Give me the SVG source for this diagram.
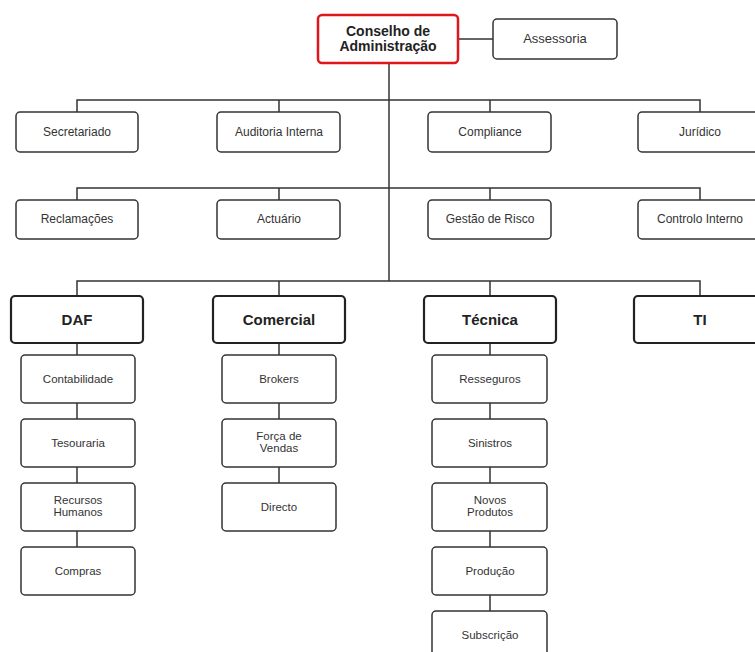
<svg xmlns="http://www.w3.org/2000/svg" width="755" height="652" viewBox="0 0 755 652">
<style>
.bg{fill:#ffffff}
.box{fill:#ffffff;stroke:#333333;stroke-width:1.5}
.dept{fill:#ffffff;stroke:#222222;stroke-width:2.2}
.top{fill:#ffffff;stroke:#e0161b;stroke-width:2.5}
.ln{fill:none;stroke:#333333;stroke-width:1.5}
text{font-family:"Liberation Sans",Arial,sans-serif;text-anchor:middle;fill:#333333}
.t1{font-size:12px}
.t0{font-size:14px;font-weight:bold;fill:#222222}
.td{font-size:15px;font-weight:bold;fill:#222222}
.ts{font-size:11.5px}
</style>
<rect class="bg" x="0" y="0" width="755" height="652"/>
<g id="connectors">
<path class="ln" d="M458 39H493"/>
<path class="ln" d="M389 63V281"/>
<path class="ln" d="M77 112V100H700V112M279 100V112M490 100V112"/>
<path class="ln" d="M77 200V188H700V200M279 188V200M490 188V200"/>
<path class="ln" d="M77 296V281H700V296M279 281V296M490 281V296"/>
<path class="ln" d="M77 343V547"/>
<path class="ln" d="M279 343V483"/>
<path class="ln" d="M490 343V611"/>
</g>
<g id="conselho"><rect class="top" x="318" y="15" width="140" height="48" rx="4"/><text class="t0" x="388" y="36">Conselho de</text><text class="t0" x="388" y="51">Administração</text></g>
<g id="assessoria"><rect class="box" x="493" y="19" width="124" height="40" rx="4"/><text class="t1" x="555" y="43" style="font-size:13px">Assessoria</text></g>
<g id="secretariado"><rect class="box" x="16" y="112" width="122" height="40" rx="4"/><text class="t1" x="77" y="136">Secretariado</text></g>
<g id="auditoria"><rect class="box" x="217" y="112" width="123" height="40" rx="4"/><text class="t1" x="279" y="136">Auditoria Interna</text></g>
<g id="compliance"><rect class="box" x="428" y="112" width="123" height="40" rx="4"/><text class="t1" x="490" y="136">Compliance</text></g>
<g id="juridico"><rect class="box" x="638" y="112" width="124" height="40" rx="4"/><text class="t1" x="700" y="136">Jurídico</text></g>
<g id="reclamacoes"><rect class="box" x="16" y="200" width="122" height="39" rx="4"/><text class="t1" x="77" y="223">Reclamações</text></g>
<g id="actuario"><rect class="box" x="217" y="200" width="123" height="39" rx="4"/><text class="t1" x="279" y="223">Actuário</text></g>
<g id="gestao-risco"><rect class="box" x="428" y="200" width="123" height="39" rx="4"/><text class="t1" x="490" y="223">Gestão de Risco</text></g>
<g id="controlo-interno"><rect class="box" x="638" y="200" width="124" height="39" rx="4"/><text class="t1" x="700" y="223">Controlo Interno</text></g>
<g id="daf"><rect class="dept" x="11" y="296" width="132" height="47" rx="4"/><text class="td" x="77" y="325">DAF</text></g>
<g id="comercial"><rect class="dept" x="213" y="296" width="132" height="47" rx="4"/><text class="td" x="279" y="325">Comercial</text></g>
<g id="tecnica"><rect class="dept" x="424" y="296" width="132" height="47" rx="4"/><text class="td" x="490" y="325">Técnica</text></g>
<g id="ti"><rect class="dept" x="634" y="296" width="132" height="47" rx="4"/><text class="td" x="700" y="325">TI</text></g>
<g id="contabilidade"><rect class="box" x="21" y="355" width="114" height="48" rx="4"/><text class="ts" x="78" y="383">Contabilidade</text></g>
<g id="tesouraria"><rect class="box" x="21" y="419" width="114" height="48" rx="4"/><text class="ts" x="78" y="447">Tesouraria</text></g>
<g id="recursos-humanos"><rect class="box" x="21" y="483" width="114" height="48" rx="4"/><text class="ts" x="78" y="504">Recursos</text><text class="ts" x="78" y="516">Humanos</text></g>
<g id="compras"><rect class="box" x="21" y="547" width="114" height="48" rx="4"/><text class="ts" x="78" y="575">Compras</text></g>
<g id="brokers"><rect class="box" x="222" y="355" width="114" height="48" rx="4"/><text class="ts" x="279" y="383">Brokers</text></g>
<g id="forca-vendas"><rect class="box" x="222" y="419" width="114" height="48" rx="4"/><text class="ts" x="279" y="440">Força de</text><text class="ts" x="279" y="452">Vendas</text></g>
<g id="directo"><rect class="box" x="222" y="483" width="114" height="48" rx="4"/><text class="ts" x="279" y="511">Directo</text></g>
<g id="resseguros"><rect class="box" x="432" y="355" width="115" height="48" rx="4"/><text class="ts" x="490" y="383">Resseguros</text></g>
<g id="sinistros"><rect class="box" x="432" y="419" width="115" height="48" rx="4"/><text class="ts" x="490" y="447">Sinistros</text></g>
<g id="novos-produtos"><rect class="box" x="432" y="483" width="115" height="48" rx="4"/><text class="ts" x="490" y="504">Novos</text><text class="ts" x="490" y="516">Produtos</text></g>
<g id="producao"><rect class="box" x="432" y="547" width="115" height="48" rx="4"/><text class="ts" x="490" y="575">Produção</text></g>
<g id="subscricao"><rect class="box" x="432" y="611" width="115" height="48" rx="4"/><text class="ts" x="490" y="639">Subscrição</text></g>
</svg>
